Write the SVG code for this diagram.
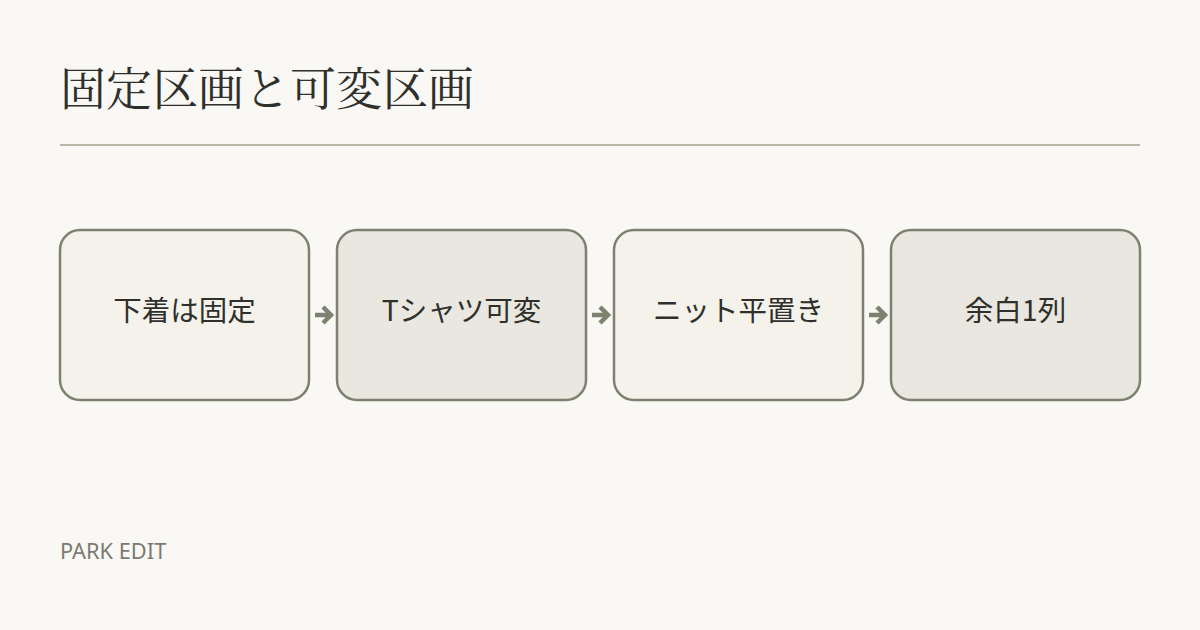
<svg xmlns="http://www.w3.org/2000/svg" width="1200" height="630" viewBox="0 0 1200 630">
<defs>
<style>
.title{font-family:"Noto Serif CJK JP","Noto Serif JP","Liberation Serif","Noto Sans CJK JP",serif;font-size:46px;fill:#2f302b}
.box{stroke:#7d8270;stroke-width:2.5}
.a{fill:#f4f2eb}
.b{fill:#e9e7df}
.lbl{font-family:"Noto Sans CJK JP","Noto Sans",sans-serif;font-size:28.5px;fill:#2f302b;text-anchor:middle;dominant-baseline:central}
.conn{stroke:#7d8270;stroke-width:4.5;fill:none;stroke-linejoin:miter}
.foot{font-family:"Noto Sans","Liberation Sans",sans-serif;font-size:21.8px;fill:#7a7a72}
</style>
</defs>
<rect width="1200" height="630" fill="#f9f8f4"/>
<text class="title" x="60" y="105">固定区画と可変区画</text>
<line x1="60" y1="145" x2="1140" y2="145" stroke="#b8b8a8" stroke-width="2"/>
<g id="connectors">
<path class="conn" d="M315,315 H330 M323,307 L331,315 L323,323"/>
<path class="conn" d="M592,315 H607 M600,307 L608,315 L600,323"/>
<path class="conn" d="M869,315 H884 M877,307 L885,315 L877,323"/>
</g>
<g id="n1"><rect class="box a" x="60" y="230" width="249" height="170" rx="20"/><text class="lbl" x="184.5" y="308">下着は固定</text></g>
<g id="n2"><rect class="box b" x="337" y="230" width="249" height="170" rx="20"/><text class="lbl" x="461.5" y="308">Tシャツ可変</text></g>
<g id="n3"><rect class="box a" x="614" y="230" width="249" height="170" rx="20"/><text class="lbl" x="738.5" y="308">ニット平置き</text></g>
<g id="n4"><rect class="box b" x="891" y="230" width="249" height="170" rx="20"/><text class="lbl" x="1015.5" y="308">余白1列</text></g>
<text class="foot" x="60" y="559">PARK EDIT</text>
</svg>
